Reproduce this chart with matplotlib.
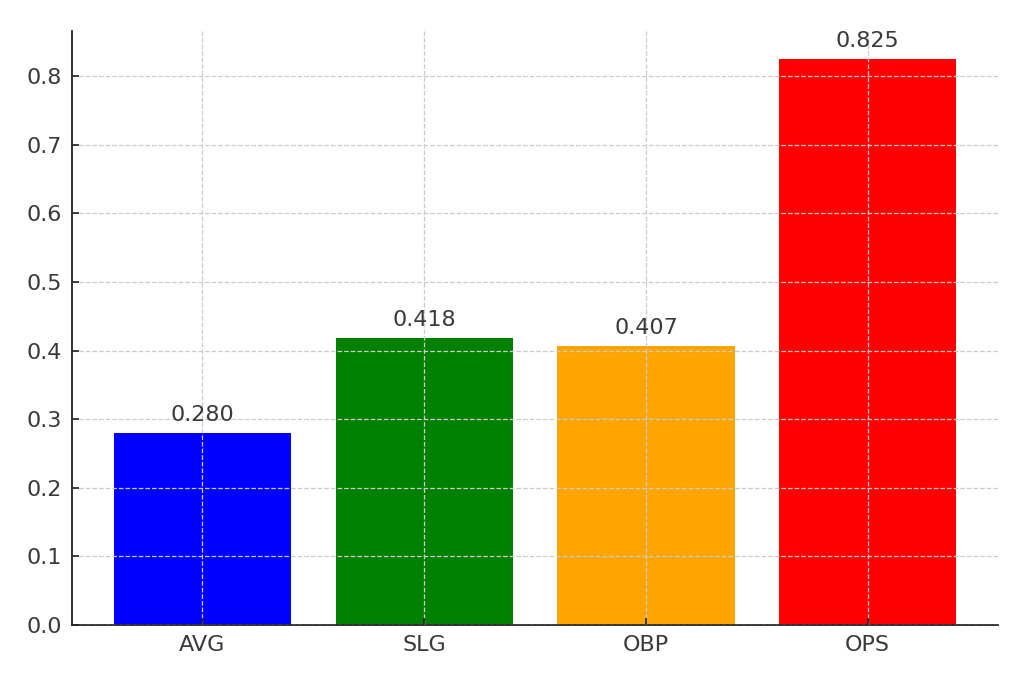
import matplotlib
matplotlib.use("Agg")
import matplotlib.pyplot as plt

categories = ["AVG", "SLG", "OBP", "OPS"]
values = [0.280, 0.418, 0.407, 0.825]
colors = ["blue", "green", "orange", "red"]

fig, ax = plt.subplots(figsize=(10.24, 6.83), dpi=100)
fig.subplots_adjust(left=0.07, right=0.975, bottom=0.085, top=0.955)
bars = ax.bar(categories, values, color=colors, width=0.8)
for b, v in zip(bars, values):
    ax.text(b.get_x() + b.get_width() / 2, v + 0.012, f"{v:.3f}", ha="center", va="bottom",
            fontsize=16, color="#3a3a3a")
ax.grid(True, linestyle="--", color="#cccccc", linewidth=0.9)
ax.set_axisbelow(False)
for s in ["top", "right"]:
    ax.spines[s].set_visible(False)
for s in ["left", "bottom"]:
    ax.spines[s].set_color("#222222")
    ax.spines[s].set_linewidth(1.3)
ax.tick_params(labelsize=16, labelcolor="#3a3a3a", color="#222222", direction="in",
               length=5, width=1.2, pad=7)
fig.savefig("out.png")
